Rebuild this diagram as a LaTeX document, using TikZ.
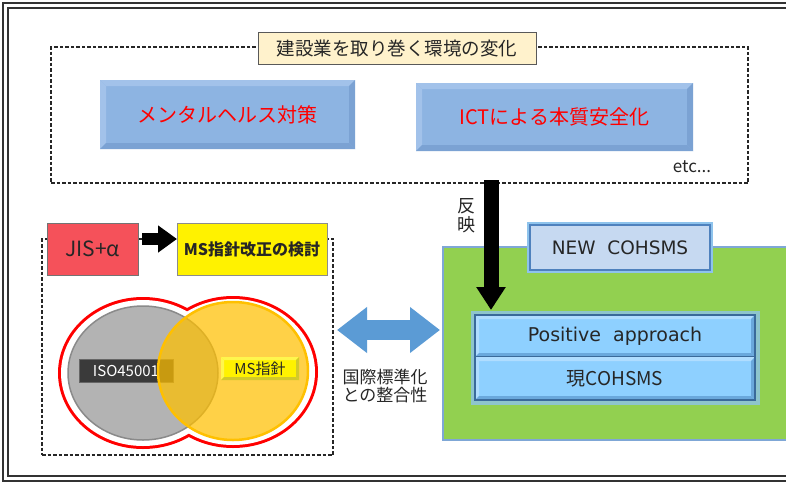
\documentclass[tikz,border=0pt]{standalone}
\usepackage{fontspec}
\setmainfont{Noto Sans CJK JP}
\newfontfamily\dejavu{DejaVu Sans}
\usetikzlibrary{calc,arrows.meta,shapes.geometric}
\definecolor{boxblue}{HTML}{8DB4E2}
\definecolor{boxlight}{HTML}{A2C2EA}
\definecolor{boxdark}{HTML}{7BA2D3}
\definecolor{titlefill}{HTML}{FFF2CC}
\definecolor{jisred}{HTML}{F5515A}
\definecolor{isogray}{HTML}{B3B3B3}
\definecolor{isoedge}{HTML}{8A8A8A}
\definecolor{isodark}{HTML}{3A3A3A}
\definecolor{msorange}{HTML}{FFC000}
\definecolor{orangeedge}{HTML}{FFC000}
\definecolor{cgreen}{HTML}{92D050}
\definecolor{greenedge}{HTML}{7FA7D6}
\definecolor{newfill}{HTML}{C6D9F1}
\definecolor{newedge}{HTML}{4F81BD}
\definecolor{glowc}{HTML}{8EC3EC}
\definecolor{skyfill}{HTML}{8ED0FF}
\definecolor{skylight}{HTML}{B0DDFF}
\definecolor{skydark}{HTML}{6AA8DC}
\definecolor{cohedge}{HTML}{3A6A9A}
\definecolor{arrowblue}{HTML}{5B9BD5}
\definecolor{txt}{HTML}{262626}
\newcommand\fsz[1]{\fontsize{#1}{#1}\selectfont}
\newcommand\bevelrect[4]{%
 \fill[#3] (#1.north west) -- (#1.north east) -- ($(#1.north east)+(-#2,#2)$) -- ($(#1.north west)+(#2,#2)$) -- cycle;
 \fill[#3] (#1.north west) -- ($(#1.north west)+(#2,#2)$) -- ($(#1.south west)+(#2,-#2)$) -- (#1.south west) -- cycle;
 \fill[#4] (#1.south west) -- (#1.south east) -- ($(#1.south east)+(-#2,-#2)$) -- ($(#1.south west)+(#2,-#2)$) -- cycle;
 \fill[#4] (#1.north east) -- (#1.south east) -- ($(#1.south east)+(-#2,-#2)$) -- ($(#1.north east)+(-#2,#2)$) -- cycle;}
\begin{document}
\begin{tikzpicture}[x=1pt,y=-1pt,
  every node/.style={inner sep=0pt, outer sep=0pt, text=txt},
  dashbox/.style={draw=black!85, dash pattern=on 3.5pt off 2pt, line width=1.4pt},
  titlebox/.style={draw=black!65, line width=1pt, fill=titlefill},
  topbox/.style={fill=boxblue, text=red},
  blkarrow/.style={draw=black, line cap=butt},
  cohbox/.style={fill=skyfill, draw=cohedge, line width=1.2pt}]
\useasboundingbox (0,0) rectangle (786,482);
\fill[white] (0,0) rectangle (786,482);
% outer double frame
\draw[line width=1.3pt, black!80] (3,3) rectangle (800,481);
\draw[line width=1.3pt, black!80] (8,8) rectangle (800,476);

% top section
\node[dashbox, minimum width=697pt, minimum height=136pt] (topdash) at (399.5,115) {};
\node[titlebox, minimum width=278pt, minimum height=32pt] (title) at (397,48) {\fsz{18.5}建設業を取り巻く環境の変化};
\node[topbox, minimum width=255pt, minimum height=69pt] (mental) at (227.5,114.5) {};
\bevelrect{mental}{6}{boxlight}{boxdark}
\node[text=red] at (mental.center) {\fsz{20}メンタルヘルス対策};
\node[topbox, minimum width=277pt, minimum height=68pt] (ict) at (554.5,117) {};
\bevelrect{ict}{6}{boxlight}{boxdark}
\node[text=red] at (ict.center) {\fsz{20}ICTによる本質安全化};
\node (etc) at (692,167) {\fsz{17}etc...};

% left section
\node[dashbox, minimum width=291pt, minimum height=216pt] (ldash) at (187.5,347) {};
\node[draw=black!55, fill=jisred, line width=0.8pt, minimum width=91pt, minimum height=52pt] (jis) at (92.5,249) {\fsz{21}JIS+α};
\node[draw=black!45, fill=yellow, line width=0.8pt, minimum width=150pt, minimum height=52pt] (msrev) at (252,249) {\fsz{16}\bfseries MS指針改正の検討};
\draw[blkarrow, line width=12pt, -{Triangle[width=26pt,length=19pt]}] ($(jis.east)+(4,-10)$) -- ($(msrev.west)+(0,-10)$);

% venn
\draw[red, line width=6pt] (143,373) ellipse [x radius=82, y radius=73];
\draw[red, line width=6pt] (233,372) ellipse [x radius=82, y radius=73];
\fill[white] (143,373) ellipse [x radius=82, y radius=73];
\fill[white] (233,372) ellipse [x radius=82, y radius=73];
\node[ellipse, draw=isoedge, line width=1.5pt, fill=isogray, minimum width=150pt, minimum height=134pt] (isoell) at (143,373) {};
\node[fill=isodark, draw=black!60, line width=0.8pt, minimum width=94pt, minimum height=23pt] (isolab) at (126,370.5) {\color{white}\fsz{15}ISO45001};
\node[ellipse, draw=orangeedge, line width=2.5pt, fill=msorange, fill opacity=0.72, minimum width=150pt, minimum height=138pt] (msell) at (233,371) {};
\node[fill=yellow, minimum width=78pt, minimum height=23pt] (mslab) at (260,368.5) {};
\bevelrect{mslab}{3}{yellow!70!white}{yellow!80!black}
\node at (mslab.center) {\fsz{15}MS指針};

% right section
\node[draw=greenedge, line width=1.5pt, fill=cgreen, minimum width=352pt, minimum height=193pt] (green) at (619,343.5) {};
\node[draw=newedge, line width=1.5pt, fill=newfill, preaction={draw=glowc, line width=6pt}, minimum width=180pt, minimum height=45pt] (newc) at (620,247.5) {\dejavu\fsz{18.5}NEW\ \ COHSMS};
\draw[glowc, line width=9pt, opacity=0.8] (475,315) rectangle (755,400);
\node[cohbox, minimum width=280pt, minimum height=42pt] (pa) at (615,336) {};
\bevelrect{pa}{4}{skylight}{skydark}
\node at (pa.center) {\dejavu\fsz{19}Positive\ \ approach};
\node[cohbox, minimum width=280pt, minimum height=43pt] (gen) at (615,378.5) {};
\bevelrect{gen}{4}{skylight}{skydark}
\node at (gen.center) {\fsz{19}現COHSMS};
\draw[cohedge, line width=1.2pt] (pa.north west) rectangle (gen.south east);

% arrows
\draw[blkarrow, line width=15pt, -{Triangle[width=28pt,length=23pt]}] ($(topdash.south)+(91.5,-3)$) -- ($(pa.north west)+(16,-5)$);
\node[align=center, font=\fontsize{18}{19}\selectfont] (hanei) at (466,216) {反\\映};
\draw[draw=arrowblue, line width=20pt, {Triangle[width=44pt,length=30pt]}-{Triangle[width=44pt,length=30pt]}] ($(ldash.east)+(4,-17)$) -- ($(green.west)+(-3,-13.5)$);
\node[align=center, font=\fontsize{17}{18.5}\selectfont] (kokusai) at (385,386) {国際標準化\\との整合性};
\end{tikzpicture}
\end{document}
